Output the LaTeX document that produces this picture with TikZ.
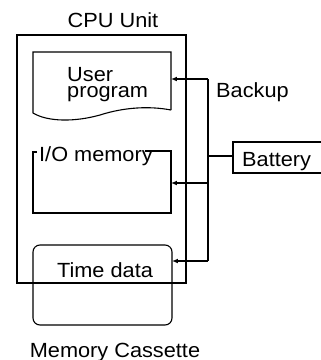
\documentclass[tikz,border=0pt]{standalone}
\usepackage{fontspec}
\setmainfont[FakeStretch=1.06]{Liberation Sans}
\usetikzlibrary{arrows.meta}
\begin{document}
\begin{tikzpicture}[x=1pt,y=-1pt,
  lbl/.style={inner sep=0pt,font=\fontsize{20.5}{16.5}\selectfont},
  thickbox/.style={draw,line width=2.4pt},
  thinbox/.style={draw,line width=1.1pt},
  conn/.style={draw,line width=1.2pt},
  arr/.style={conn,-{Latex[length=6pt,width=5pt]}}]
\useasboundingbox (0,0) rectangle (321,360);
% CPU unit
\draw[thickbox] (17,35) rectangle (186,283);
\node[lbl,anchor=base] (cpu) at (113,27) {CPU Unit};
% user program
\draw[thinbox] (171,110) -- (171,52) -- (33,52) -- (33,113)
  .. controls (48,122) and (75,122) .. (100,115)
  .. controls (125,107) and (150,106) .. (171,110);
\node[lbl,anchor=north west,align=left] (user) at (67,67) {User\\program};
\coordinate (upin) at (171,79);
% I/O memory
\node[lbl,anchor=base west] (io) at (39,161) {I/O memory};
\coordinate (ioA) at (145,151);
\draw[thinbox] (ioA) -- (171,151) -- (171,213) -- (33,213) -- (33,152) -- (37,152);
\coordinate (ioin) at (171,183);
% time data
\draw[thinbox,rounded corners=7pt] (33,245) rectangle (172,325);
\node[lbl,anchor=base] (time) at (105,277) {Time data};
\coordinate (tdin) at (172,261);
\node[lbl,anchor=base] (mc) at (115,357) {Memory Cassette};
% battery
\draw[thickbox] (322,142) -- (233,142) -- (233,173) -- (322,173);
\node[lbl,anchor=base west] (bat) at (242,166) {Battery};
\coordinate (batin) at (233,156);
% backup bus
\coordinate (b1) at (208,79);
\coordinate (b2) at (208,156);
\coordinate (b3) at (208,183);
\coordinate (b4) at (208,261);
\draw[conn] (b1) -- (b4);
\draw[conn] (batin) -- (b2);
\draw[arr] (b1) -- (upin);
\draw[arr] (b3) -- (ioin);
\draw[arr] (b4) -- (tdin);
\node[lbl,anchor=base west] (backup) at (216,97) {Backup};
\end{tikzpicture}
\end{document}
